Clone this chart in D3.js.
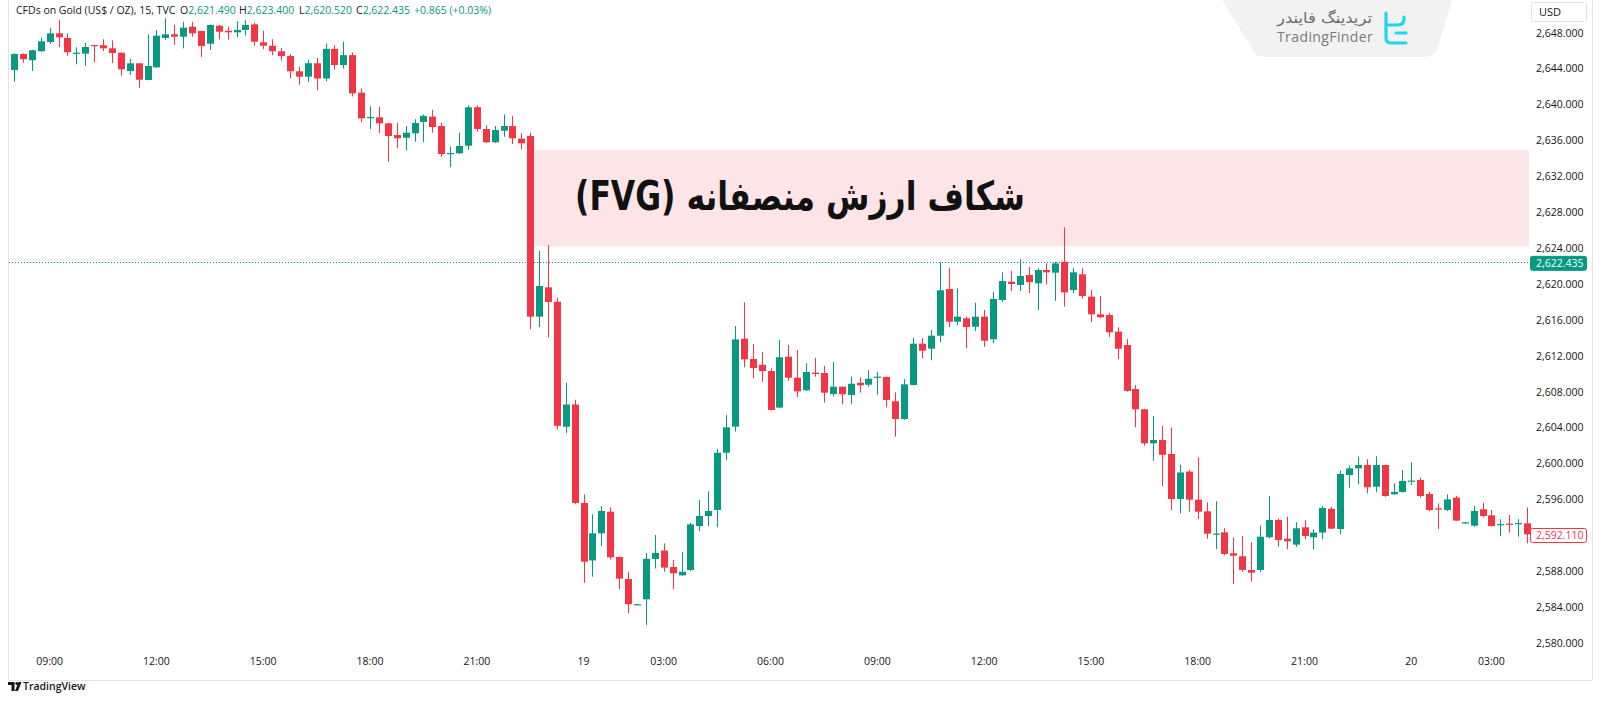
<!DOCTYPE html>
<html><head><meta charset="utf-8">
<script src="https://cdn.jsdelivr.net/npm/d3@7"></script>
<style>html,body{margin:0;padding:0;background:#fff;overflow:hidden}</style>
</head><body><svg id="c" width="1600" height="702" xmlns="http://www.w3.org/2000/svg"></svg>
<script>
// ---- data (15-minute candles, CFDs on Gold) ----
const opens=[2643.84,2645.63,2644.93,2645.93,2646.96,2647.93,2647.41,2645.66,2645.66,2646.63,
2646.6,2646.26,2645.77,2643.73,2644.59,2642.73,2644.14,2647.41,2647.82,2647.55,
2648.67,2648.2,2646.77,2648.78,2648.22,2648.04,2648.3,2648.93,2646.93,2646.55,
2645.93,2645.4,2643.7,2643.1,2644.6,2642.9,2646.2,2644.4,2645.5,2641.32,
2638.5,2638.57,2637.9,2636.6,2636.3,2636.79,2638.05,2638.65,2637.6,2634.5,
2634.56,2635.41,2639.69,2637.27,2635.79,2637.08,2637.6,2636.19,2636.49,2616.36,
2619.63,2618.03,2604.1,2606.57,2595.6,2589.2,2592.22,2594.63,2589.58,2587.13,
2584.3,2584.87,2589.36,2590.3,2588.47,2587.54,2588.13,2593.03,2594.15,2594.82,
2601.2,2604.1,2613.9,2611.64,2611.0,2610.3,2606.23,2611.9,2609.56,2608.16,
2610.12,2610.08,2607.74,2608.56,2607.63,2609.0,2608.78,2609.6,2609.64,2606.93,
2604.96,2608.75,2613.35,2612.79,2614.24,2619.44,2615.8,2616.18,2615.24,2616.36,
2613.84,2618.22,2620.26,2619.89,2621.0,2620.07,2621.56,2621.26,2622.48,2619.33,
2621.08,2618.59,2616.62,2616.55,2614.69,2613.2,2608.3,2606.04,2602.25,2602.62,
2601.06,2596.04,2599.1,2595.97,2594.67,2592.1,2592.33,2590.0,2589.66,2588.14,
2588.14,2591.78,2593.7,2591.62,2590.96,2592.89,2591.78,2592.3,2594.96,2592.7,
2598.72,2599.46,2599.83,2597.42,2599.83,2596.57,2596.83,2598.0,2598.16,2596.6,
2595.0,2594.82,2596.2,2593.4,2593.07,2594.9,2594.22,2593.15,2593.3,2593.28,
2593.33];
const highs=[2645.7,2645.7,2646.1,2647.44,2648.56,2649.4,2647.93,2646.37,2646.85,2646.63,
2647.26,2647.15,2645.8,2645.1,2644.6,2647.82,2648.3,2649.6,2648.86,2649.23,
2649.2,2648.2,2648.9,2648.86,2648.67,2649.3,2649.41,2649.1,2648.22,2647.26,
2646.3,2645.6,2644.2,2645.0,2645.2,2646.8,2646.6,2647.0,2645.8,2641.8,
2639.8,2639.75,2637.95,2637.97,2637.6,2638.35,2638.9,2639.4,2637.97,2635.3,
2636.86,2639.94,2639.9,2637.68,2637.6,2638.9,2638.72,2636.8,2636.86,2623.7,
2624.33,2618.47,2609.0,2607.1,2596.57,2594.34,2595.26,2595.11,2589.6,2587.94,
2584.35,2590.05,2592.03,2591.1,2589.25,2590.14,2593.4,2595.93,2596.9,2601.6,
2605.4,2615.32,2617.96,2613.28,2612.4,2610.6,2613.76,2613.2,2612.65,2611.17,
2611.76,2610.86,2611.3,2608.6,2609.67,2609.6,2610.4,2610.2,2609.7,2607.93,
2609.4,2613.98,2613.98,2614.87,2622.4,2621.8,2619.52,2616.36,2617.9,2617.1,
2619.1,2621.3,2621.45,2622.75,2621.9,2621.76,2622.3,2622.48,2626.32,2621.8,
2621.76,2619.33,2618.66,2616.8,2615.18,2613.87,2608.75,2606.1,2605.3,2604.18,
2604.0,2599.84,2599.28,2600.69,2595.67,2595.79,2592.8,2591.77,2591.92,2591.22,
2593.1,2596.38,2593.84,2594.08,2593.45,2593.7,2592.67,2595.26,2595.2,2599.2,
2599.76,2600.76,2600.47,2600.8,2599.85,2597.8,2599.27,2600.13,2598.42,2596.86,
2595.56,2596.57,2596.4,2593.5,2595.26,2595.63,2594.82,2593.8,2594.26,2593.8,
2595.1];
const lows=[2642.54,2644.66,2643.73,2645.9,2646.74,2646.4,2645.44,2644.48,2644.29,2644.7,
2645.96,2644.62,2643.2,2643.29,2641.87,2642.7,2644.1,2647.2,2646.66,2646.26,
2647.55,2645.3,2646.07,2647.26,2647.22,2647.5,2647.67,2646.55,2646.18,2645.5,
2644.9,2642.9,2642.2,2642.5,2641.6,2642.6,2643.9,2644.0,2640.9,2638.0,
2637.27,2636.8,2633.63,2635.12,2634.9,2635.86,2635.8,2636.86,2634.18,2633.0,
2634.5,2634.93,2637.0,2635.7,2635.7,2636.4,2635.6,2635.0,2614.95,2615.2,
2614.06,2603.8,2603.4,2595.5,2586.72,2587.39,2590.8,2589.3,2586.0,2583.3,
2584.25,2582.0,2588.3,2587.94,2585.98,2587.5,2588.0,2592.45,2593.0,2592.9,
2600.4,2603.55,2610.72,2609.5,2609.1,2605.9,2606.2,2609.2,2607.4,2608.08,
2609.67,2606.78,2607.48,2606.6,2606.66,2607.9,2608.55,2607.67,2606.26,2602.99,
2604.85,2608.7,2611.72,2611.5,2613.5,2615.2,2615.43,2612.83,2614.76,2613.0,
2613.4,2618.0,2619.22,2619.22,2619.0,2617.1,2619.97,2618.13,2617.47,2619.0,
2618.4,2615.73,2616.2,2614.07,2611.64,2608.0,2604.03,2602.0,2600.3,2597.5,
2594.82,2594.45,2594.63,2593.82,2591.62,2590.47,2589.77,2586.57,2587.94,2586.83,
2587.9,2591.67,2590.73,2590.44,2590.7,2591.56,2590.44,2591.56,2592.67,2592.1,
2597.3,2597.7,2596.68,2596.8,2596.3,2596.5,2596.75,2597.6,2596.2,2594.71,
2592.7,2594.7,2593.6,2593.3,2592.96,2594.0,2592.96,2591.9,2592.3,2591.85,
2591.1];
const closes=[2645.63,2645.04,2646.04,2647.04,2647.93,2647.49,2645.82,2645.77,2646.41,2646.55,
2646.26,2645.74,2643.92,2644.59,2642.76,2644.29,2647.67,2647.82,2647.55,2648.56,
2647.93,2646.52,2648.86,2648.11,2648.04,2648.3,2648.86,2647.0,2646.55,2645.93,
2645.4,2643.7,2643.1,2644.6,2642.9,2646.2,2644.4,2645.5,2641.24,2638.46,
2638.6,2637.9,2636.49,2636.23,2636.86,2637.94,2638.72,2637.49,2634.48,2634.6,
2635.38,2639.69,2637.27,2635.79,2637.16,2637.6,2636.23,2635.68,2616.36,2619.78,
2618.0,2604.2,2606.57,2595.6,2589.06,2592.22,2594.71,2589.54,2587.17,2584.32,
2584.32,2589.38,2590.04,2588.4,2587.77,2587.94,2593.22,2594.15,2594.71,2601.2,
2604.03,2613.83,2611.6,2610.64,2610.3,2605.96,2611.84,2609.56,2608.04,2610.2,
2609.97,2607.89,2608.56,2607.71,2608.89,2608.71,2609.45,2609.68,2607.08,2604.96,
2608.82,2613.35,2612.57,2614.24,2619.3,2615.8,2616.36,2615.2,2616.36,2613.68,
2618.33,2620.33,2620.0,2620.89,2620.22,2621.56,2621.3,2622.3,2619.07,2621.3,
2618.66,2616.62,2616.29,2614.62,2612.79,2608.08,2606.04,2602.25,2602.62,2600.97,
2596.04,2599.0,2595.97,2594.63,2592.18,2592.2,2589.92,2589.73,2588.14,2587.84,
2591.84,2593.7,2591.48,2591.33,2592.78,2591.92,2592.3,2595.04,2592.74,2598.83,
2599.46,2599.83,2597.35,2599.83,2596.38,2596.83,2598.05,2598.1,2596.38,2594.82,
2594.93,2596.0,2593.64,2593.45,2594.71,2594.15,2593.03,2593.25,2593.22,2593.36,
2592.11];
const tickIndex=[4,16,28,40,52,64,73,85,97,109,121,133,145,157,166];
const tickText=["09:00","12:00","15:00","18:00","21:00","19","03:00","06:00","09:00","12:00","15:00","18:00","21:00","20","03:00"];
const priceTicks=d3.range(2580,2649,4);
const fvgRange=[2634.9,2624.2];
const fvgStartIndex=58.5;
const fvgLabel="شکاف ارزش منصفانه (FVG)";
const refPrice=2622.435, lastPrice=2592.11;
const headerTitle="CFDs on Gold (US$ / OZ), 15, TVC";
const headerFields=[["O","2,621.490"],["H","2,623.400"],["L","2,620.520"],["C","2,622.435"]];
const headerChange="+0.865 (+0.03%)";

// ---- drawing ----
const UP="#089981", DN="#f23645", TXT="#131722", GRID="#e0e3eb";
const svg=d3.select("#c");
svg.append("rect").attr("width",1600).attr("height",702).attr("fill","#fff");

const n=opens.length;
const x=d3.scaleLinear().domain([0,n-1]).range([14,14+(n-1)*8.9]);
const y=d3.scaleLinear().domain([2580,2648]).range([643,32.7]);
const plotRight=1529;

// frame
svg.append("line").attr("x1",8.5).attr("x2",8.5).attr("y1",0).attr("y2",680).attr("stroke",GRID);
svg.append("line").attr("x1",8.5).attr("x2",1592.5).attr("y1",680.5).attr("y2",680.5).attr("stroke",GRID);
svg.append("line").attr("x1",1592.5).attr("x2",1592.5).attr("y1",0).attr("y2",680).attr("stroke",GRID);

// FVG zone
svg.append("rect").attr("x",x(fvgStartIndex)).attr("y",y(fvgRange[0]))
  .attr("width",plotRight-x(fvgStartIndex)).attr("height",y(fvgRange[1])-y(fvgRange[0]))
  .attr("fill","#fce4e7");

// reference dotted line
svg.append("line").attr("x1",9).attr("x2",plotRight).attr("y1",Math.round(y(refPrice))+0.5).attr("y2",Math.round(y(refPrice))+0.5)
  .attr("stroke",UP).attr("stroke-dasharray","1,2").attr("stroke-width",1);

// candles
const idx=d3.range(n);
const g=svg.append("g");
g.selectAll("line.w").data(idx).join("line").attr("class","w")
  .attr("x1",i=>Math.round(x(i))+0.5).attr("x2",i=>Math.round(x(i))+0.5)
  .attr("y1",i=>y(highs[i])).attr("y2",i=>y(lows[i]))
  .attr("stroke",i=>closes[i]>=opens[i]?UP:DN).attr("stroke-width",1);
g.selectAll("rect.b").data(idx).join("rect").attr("class","b")
  .attr("x",i=>Math.round(x(i))-3).attr("width",7)
  .attr("y",i=>y(Math.max(opens[i],closes[i])))
  .attr("height",i=>Math.max(1.2,Math.abs(y(opens[i])-y(closes[i]))))
  .attr("fill",i=>closes[i]>=opens[i]?UP:DN);

// FVG label
svg.append("text").attr("x",800).attr("y",210)
  .attr("text-anchor","middle").style("direction","rtl").style("unicode-bidi","embed")
  .attr("font-family","'DejaVu Sans',sans-serif").attr("font-weight","bold").attr("font-size",40)
  .attr("textLength",450).attr("lengthAdjust","spacingAndGlyphs")
  .attr("fill","#111").text(fvgLabel);

// price axis
const ax=svg.append("g").attr("font-family","'Open Sans',sans-serif").attr("font-size",10.5).attr("fill",TXT);
ax.selectAll("text").data(priceTicks).join("text")
  .attr("x",1536).attr("y",d=>y(d)+3.8).text(d=>d3.format(",.3f")(d));

// USD box
svg.append("rect").attr("x",1531.5).attr("y",2.5).attr("width",55).attr("height",19).attr("rx",2)
  .attr("fill","#fff").attr("stroke",GRID);
svg.append("text").attr("x",1539).attr("y",16).attr("font-family","'Open Sans',sans-serif").attr("font-size",11).attr("fill",TXT).text("USD");

// price labels
function priceTag(v,fill,stroke,color){
  const yy=y(v)+1.2;
  svg.append("rect").attr("x",1530.5).attr("y",yy-7).attr("width",56).attr("height",14).attr("rx",2)
    .attr("fill",fill).attr("stroke",stroke);
  svg.append("text").attr("x",1536).attr("y",yy+3.8).attr("font-family","'Open Sans',sans-serif")
    .attr("font-size",10.5).attr("fill",color).text(d3.format(",.3f")(v));
}
priceTag(refPrice,UP,UP,"#fff");
priceTag(lastPrice,"#fff",DN,DN);

// time axis
const tx=svg.append("g").attr("font-family","'Open Sans',sans-serif").attr("font-size",10.5).attr("fill",TXT);
tx.selectAll("text").data(tickIndex).join("text")
  .attr("x",i=>x(i)).attr("y",665).attr("text-anchor","middle").text((d,k)=>tickText[k]);

// header
const ht=svg.append("text").attr("x",16).attr("y",14).attr("font-family","'Open Sans',sans-serif").attr("font-size",10.5).attr("fill",TXT);
ht.append("tspan").text(headerTitle);
const hx=[180,239,299,356];
headerFields.forEach((f,k)=>{
  ht.append("tspan").attr("x",hx[k]).text(f[0]);
  ht.append("tspan").attr("fill",UP).text(f[1]);
});
ht.append("tspan").attr("x",414).attr("fill",UP).text(headerChange);

// TradingFinder watermark
svg.append("path").attr("d","M1222,0 L1452,0 L1438,47 Q1435,57 1424,57 L1265,57 Q1254,57 1251,47 Z").attr("fill","#f2f2f3");
svg.append("text").attr("x",1324.5).attr("y",23).attr("text-anchor","middle").style("direction","rtl")
  .attr("font-family","'DejaVu Sans',sans-serif").attr("font-size",15)
  .attr("textLength",95).attr("lengthAdjust","spacingAndGlyphs")
  .attr("fill","#6b6b6b").text("تریدینگ فایندر");
svg.append("text").attr("x",1277).attr("y",42).attr("font-family","'Open Sans',sans-serif").attr("font-size",14)
  .attr("letter-spacing",0.4).attr("fill","#7a7a7a").text("TradingFinder");
svg.append("path").attr("d","M1386,13 L1386,38 Q1386,43 1391,43 L1406,43 M1386,25 L1398,25 Q1404,25 1404,19 L1404,17")
  .attr("fill","none").attr("stroke","#1fd6f2").attr("stroke-width",3.2).attr("stroke-linecap","round").attr("stroke-linejoin","round");
svg.append("path").attr("d","M1396,33 L1406,33").attr("stroke","#1fd6f2").attr("stroke-width",3.2).attr("stroke-linecap","round");

// TradingView mark
svg.append("path").attr("d","M8,682 H14.5 V691 H11.5 V685 H8 Z").attr("fill",TXT);
svg.append("circle").attr("cx",16.8).attr("cy",683.5).attr("r",1.5).attr("fill",TXT);
svg.append("path").attr("d","M15,691 L18.5,682 L21.5,682 L18,691 Z").attr("fill",TXT);
svg.append("text").attr("x",23).attr("y",690).attr("font-family","'Open Sans',sans-serif").attr("font-size",10.5)
  .attr("font-weight",600).attr("fill",TXT).text("TradingView");
</script></body></html>
